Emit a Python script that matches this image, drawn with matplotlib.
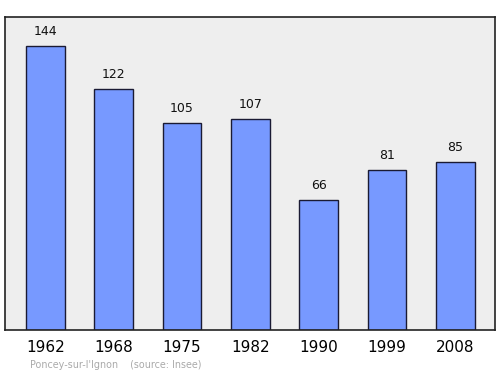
import matplotlib.pyplot as plt

years = ['1962', '1968', '1975', '1982', '1990', '1999', '2008']
population = [144, 122, 105, 107, 66, 81, 85]

fig = plt.figure(figsize=(5, 3.74), dpi=100)
ax = fig.add_axes([0.01, 1 - 330 / 374, 0.98, 313 / 374])
ax.set_facecolor('#eeeeee')

x = range(len(years))
ax.bar(x, population, width=0.57, color='#7799ff', edgecolor='#1a1a33', linewidth=1)
for i, v in zip(x, population):
    ax.text(i, v + 4, str(v), ha='center', va='bottom', fontsize=9, color='#111111')

ax.set_xlim(-0.59, 6.58)
ax.set_ylim(0, 158.7)
ax.set_yticks([])
ax.set_xticks(list(x))
ax.set_xticklabels(years, fontsize=11)
ax.tick_params(axis='x', length=0, pad=7)
for s in ax.spines.values():
    s.set_color('#222222')
    s.set_linewidth(1.2)

fig.text(30 / 500, 1 - 365 / 374, "Poncey-sur-l'Ignon    (source: Insee)",
         fontsize=6.9, color='#aaaaaa', va='center', ha='left')

fig.savefig('out.png', dpi=100)
